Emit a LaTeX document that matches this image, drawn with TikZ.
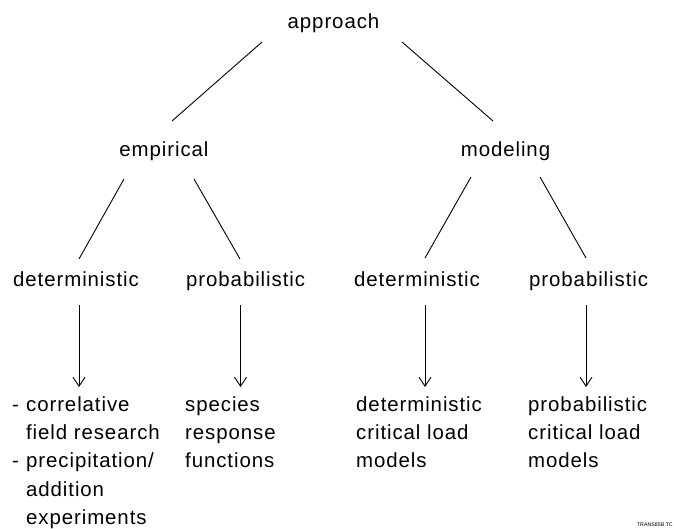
\documentclass[tikz,border=0pt]{standalone}
\usepackage{fontspec}
\setmainfont{Liberation Sans}[LetterSpace=4.5]
\newfontfamily\tinyfont{Liberation Sans}
\usetikzlibrary{arrows.meta}
\begin{document}
\begin{tikzpicture}[x=1bp,y=-1bp,
  lbl/.style={inner sep=0pt,font=\fontsize{20.5}{28.6}\selectfont},
  link/.style={line width=0.9bp},
  arr/.style={line width=0.9bp,-{Straight Barb[length=9bp,width=12bp,line width=0.9bp]}}]
\useasboundingbox (0,0) rectangle (674,529);
% top levels
\node[lbl,anchor=base] (appr) at (333.5,29) {approach};
\node[lbl,anchor=base] (emp) at (164,157) {empirical};
\node[lbl,anchor=base] (mod) at (505.5,157) {modeling};
% second level
\node[lbl,anchor=base west] (d1) at (13,286) {deterministic};
\node[lbl,anchor=base west] (p1) at (186,286) {probabilistic};
\node[lbl,anchor=base west] (d2) at (354,286) {deterministic};
\node[lbl,anchor=base west] (p2) at (529,286) {probabilistic};
% connector ends
\coordinate (a1) at (262,42);  \coordinate (e0) at (172,121);
\coordinate (a2) at (402,42);  \coordinate (m0) at (493,121);
\coordinate (e1) at (124,179); \coordinate (d1t) at (79,259);
\coordinate (e2) at (194,179); \coordinate (p1t) at (240,259);
\coordinate (m1) at (471,177); \coordinate (d2t) at (425,258);
\coordinate (m2) at (540,177); \coordinate (p2t) at (586,258);
\draw[link] (a1) -- (e0);
\draw[link] (a2) -- (m0);
\draw[link] (e1) -- (d1t);
\draw[link] (e2) -- (p1t);
\draw[link] (m1) -- (d2t);
\draw[link] (m2) -- (p2t);
% bottom blocks
\node[lbl,anchor=base west] (b1) at (12,411) {\begin{tabular}[t]{@{}l@{\hspace{0.35em}}l@{}}
-&correlative\\ &field research\\ -&precipitation/\\ &addition\\ &experiments\end{tabular}};
\node[lbl,anchor=base west] (b2) at (185,411) {\begin{tabular}[t]{@{}l@{}}species\\response\\functions\end{tabular}};
\node[lbl,anchor=base west] (b3) at (356,411) {\begin{tabular}[t]{@{}l@{}}deterministic\\critical load\\models\end{tabular}};
\node[lbl,anchor=base west] (b4) at (528,411) {\begin{tabular}[t]{@{}l@{}}probabilistic\\critical load\\models\end{tabular}};
% arrows
\coordinate (s1) at (79,305);  \coordinate (t1) at (79,387);
\coordinate (s2) at (240.5,305); \coordinate (t2) at (240.5,387);
\coordinate (s3) at (425,305); \coordinate (t3) at (425,387);
\coordinate (s4) at (586,305); \coordinate (t4) at (586,387);
\draw[arr] (s1) -- (t1);
\draw[arr] (s2) -- (t2);
\draw[arr] (s3) -- (t3);
\draw[arr] (s4) -- (t4);
% tag
\node[inner sep=0pt,anchor=base east,font=\tinyfont\fontsize{5.3}{6}\selectfont] (tag) at (673,526) {TRANS85B.TC};
\end{tikzpicture}
\end{document}
